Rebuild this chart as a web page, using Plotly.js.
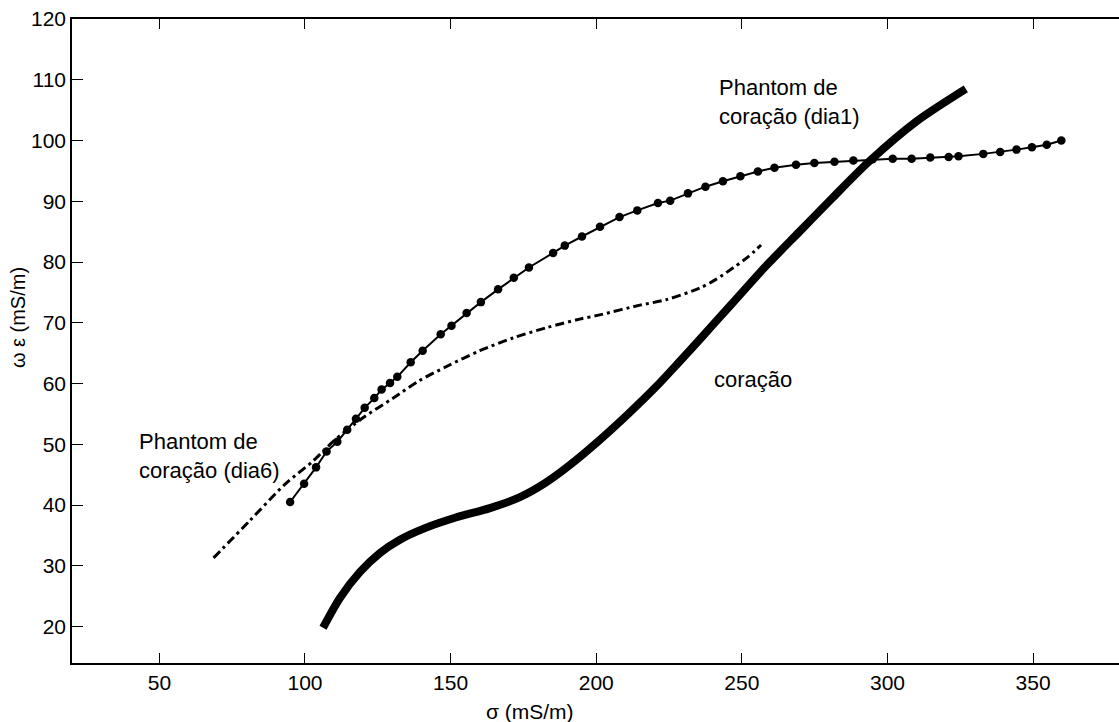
<!DOCTYPE html>
<html>
<head>
<meta charset="utf-8">
<script src="https://cdn.plot.ly/plotly-3.0.1.min.js"></script>
<style>html,body{margin:0;padding:0;background:#fff;}</style>
</head>
<body>
<div id="chart" style="width:1119px;height:722px;"></div>
<script>
// Phantom de coração (dia1) — dotted line with markers
const dia1X = [94.9, 99.7, 103.8, 107.4, 111.1, 114.5, 117.5, 120.5, 123.8, 126.3, 129.2, 131.7, 136.3, 140.4, 146.6, 150.3, 155.5, 160.4, 166.3, 171.7, 176.9, 185.2, 189.2, 195.1, 201.3, 208.0, 214.1, 221.2, 225.4, 231.5, 237.5, 243.5, 249.5, 255.5, 261.2, 268.6, 274.9, 281.8, 288.3, 294.9, 301.8, 308.3, 314.7, 321.0, 324.4, 332.9, 338.7, 344.3, 349.6, 354.7, 359.7];
const dia1Y = [40.5, 43.5, 46.2, 48.8, 50.4, 52.4, 54.2, 56.0, 57.6, 59.0, 60.1, 61.1, 63.5, 65.4, 68.1, 69.5, 71.6, 73.4, 75.5, 77.4, 79.1, 81.5, 82.7, 84.2, 85.8, 87.4, 88.5, 89.7, 90.1, 91.3, 92.4, 93.3, 94.1, 94.9, 95.5, 96.0, 96.3, 96.5, 96.7, 96.9, 97.0, 97.0, 97.2, 97.3, 97.4, 97.8, 98.1, 98.5, 98.9, 99.3, 100.0];

// Phantom de coração (dia6) — dash-dot line
const dia6X = [68.6, 81.0, 93.1, 102.9, 110.0, 120.0, 130.3, 139.0, 148.6, 160.0, 171.4, 183.0, 194.3, 201.2, 215.0, 224.0, 235.5, 241.0, 246.9, 252.0, 256.6];
const dia6Y = [31.3, 37.4, 43.4, 47.3, 50.6, 54.4, 57.6, 60.4, 62.8, 65.4, 67.5, 69.2, 70.6, 71.3, 72.9, 73.8, 75.7, 77.1, 79.0, 80.8, 82.8];

// coração — thick solid line
const coracaoX = [106.2, 112.0, 118.9, 125.7, 132.6, 141.2, 151.5, 163.5, 173.8, 182.4, 191.0, 201.2, 211.0, 220.6, 228.0, 236.0, 246.9, 258.0, 269.8, 281.0, 293.8, 309.8, 326.9];
const coracaoY = [19.8, 24.7, 29.0, 32.1, 34.3, 36.2, 37.9, 39.5, 41.3, 43.6, 46.6, 50.7, 55.0, 59.5, 63.3, 67.5, 73.3, 79.2, 85.0, 90.5, 96.6, 103.1, 108.5];

const xTicks = [50, 100, 150, 200, 250, 300, 350];
const yTicks = [20, 30, 40, 50, 60, 70, 80, 90, 100, 110, 120];

const FONT = "Liberation Sans, Arial, sans-serif";

const traces = [
  {x: dia1X, y: dia1Y, type: 'scatter', mode: 'lines+markers',
   line: {color: '#000', width: 2}, marker: {color: '#000', size: 8.5}, showlegend: false},
  {x: dia6X, y: dia6Y, type: 'scatter', mode: 'lines',
   line: {color: '#000', width: 3, dash: '9px,4px,3px,4px', shape: 'spline', smoothing: 0.8}, showlegend: false},
  {x: coracaoX, y: coracaoY, type: 'scatter', mode: 'lines',
   line: {color: '#000', width: 8, shape: 'spline', smoothing: 0.8}, showlegend: false}
];

const layout = {
  width: 1119, height: 722,
  margin: {l: 72, r: 0, t: 19, b: 59},
  paper_bgcolor: '#fff', plot_bgcolor: '#fff',
  font: {family: FONT, size: 21, color: '#000'},
  xaxis: {
    range: [20, 379.5], tickvals: xTicks, ticktext: xTicks.map(String),
    showgrid: false, zeroline: false, showline: true, linecolor: '#000', linewidth: 1.8,
    mirror: 'ticks', ticks: 'inside', ticklen: 10, tickwidth: 1, tickcolor: '#000',
    tickfont: {family: FONT, size: 21, color: '#000'}
  },
  yaxis: {
    range: [14, 120], tickvals: yTicks, ticktext: yTicks.map(String),
    showgrid: false, zeroline: false, showline: true, linecolor: '#000', linewidth: 1.8,
    mirror: false, ticks: 'inside', ticklen: 11, tickwidth: 1, tickcolor: '#000',
    tickfont: {family: FONT, size: 21, color: '#000'}
  },
  yaxis2: {
    overlaying: 'y', side: 'right', range: [14, 120], tickvals: yTicks,
    showgrid: false, zeroline: false, showline: false, showticklabels: false,
    ticks: 'inside', ticklen: 10, tickwidth: 1, tickcolor: '#000'
  },
  annotations: [
    {xref: 'paper', yref: 'paper', x: 0.0624, y: 0.3207, xanchor: 'left', yanchor: 'middle', align: 'left',
     showarrow: false, text: 'Phantom de<br>coração (dia6)', font: {family: FONT, size: 22, color: '#000'}},
    {xref: 'paper', yref: 'paper', x: 0.6158, y: 0.8704, xanchor: 'left', yanchor: 'middle', align: 'left',
     showarrow: false, text: 'Phantom de<br>coração (dia1)', font: {family: FONT, size: 22, color: '#000'}},
    {xref: 'paper', yref: 'paper', x: 0.611, y: 0.4397, xanchor: 'left', yanchor: 'middle', align: 'left',
     showarrow: false, text: 'coração', font: {family: FONT, size: 22, color: '#000'}},
    {xref: 'paper', yref: 'paper', x: 0.4374, y: -0.0751, xanchor: 'center', yanchor: 'middle',
     showarrow: false, text: 'σ (mS/m)', font: {family: FONT, size: 21, color: '#000'}},
    {xref: 'paper', yref: 'paper', x: -0.0513, y: 0.536, xanchor: 'center', yanchor: 'middle', textangle: -90,
     showarrow: false, text: 'ω ε (mS/m)', font: {family: FONT, size: 20, color: '#000'}}
  ]
};

Plotly.newPlot('chart', traces, layout, {displayModeBar: false, staticPlot: true});
</script>
</body>
</html>
